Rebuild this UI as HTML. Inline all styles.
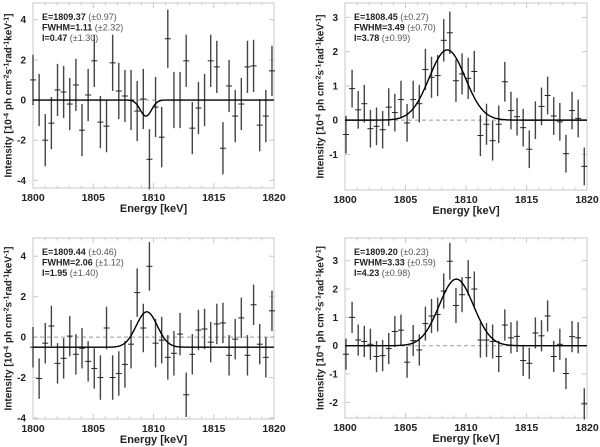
<!DOCTYPE html>
<html><head><meta charset="utf-8"><style>
html,body{margin:0;padding:0;background:#fff;}
svg{display:block;font-family:"Liberation Sans",sans-serif;}
</style></head><body>
<svg id="fig" width="600" height="447" viewBox="0 0 600 447"></svg>
<script>
const tlValues=[1.0,0.0,-2.0,-1.15,0.5,0.4,-0.2,0.75,-1.5,0.25,1.95,-1.1,-1.3,1.85,0.45,0.2,0.0,-0.55,0.05,-2.95,-0.35,-1.85,3.05,0.0,0.0,1.95,-1.4,-0.4,0.0,1.95,1.65,-2.4,0.7,-0.8,-0.2,1.65,1.7,-1.25,-0.8,1.45];
const tlErrors=[1.25,1.3,1.3,1.3,1.3,1.3,1.3,1.3,1.3,1.3,1.3,1.3,1.3,1.4,1.4,1.3,1.5,1.5,1.5,1.5,1.5,1.5,1.45,1.4,1.4,1.3,1.3,1.3,1.3,1.3,1.3,1.3,1.3,1.3,1.3,1.3,1.3,1.3,1.3,1.25];
const trValues=[-0.42,0.92,0.3,0.48,-0.25,-0.18,-0.28,0.38,0.22,0.6,-0.08,0.6,0.48,1.48,1.25,1.3,2.33,2.55,1.15,1.35,1.22,1.42,-0.45,-0.12,-0.6,-0.12,1.12,0.28,0.1,-0.22,-0.85,0.0,0.4,0.72,0.12,-0.05,-0.98,0.28,0.05,-1.35];
const trErrors=[0.55,0.55,0.55,0.55,0.55,0.55,0.55,0.55,0.55,0.55,0.55,0.55,0.55,0.6,0.6,0.6,0.62,0.62,0.62,0.6,0.6,0.6,0.6,0.6,0.58,0.55,0.58,0.55,0.55,0.55,0.55,0.55,0.55,0.55,0.55,0.55,0.55,0.55,0.55,0.55];
const blValues=[-0.5,-2.05,-0.3,0.55,-1.3,-1.05,0.05,-0.85,-0.55,-1.2,-1.55,-2.0,0.45,-2.0,-1.8,-1.35,-0.35,2.2,0.45,3.5,-0.3,-0.15,-1.0,-0.8,0.15,-2.85,-0.85,0.35,0.4,-0.25,0.65,0.7,-0.9,-0.1,0.95,-0.9,1.6,-0.35,-1.0,1.3];
const blErrors=[1.0,1.0,1.0,1.0,1.0,1.0,1.0,1.0,1.0,1.0,1.0,1.1,1.05,1.1,1.1,1.15,1.2,1.2,1.2,1.2,1.2,1.15,1.1,1.1,1.05,1.1,1.0,1.0,1.0,1.0,1.0,1.0,1.0,1.0,1.0,1.0,1.0,1.0,1.0,1.0];
const brValues=[-0.3,1.0,0.2,0.15,0.05,-0.38,-0.35,-0.1,0.5,0.55,-0.58,0.18,-0.15,0.78,1.05,1.1,1.93,2.98,1.42,1.8,2.4,2.0,0.2,0.2,0.15,-0.38,0.73,0.28,0.33,-0.52,-0.62,0.45,0.35,1.05,-0.38,0.05,-0.98,0.32,0.28,-2.05];
const brErrors=[0.55,0.55,0.55,0.55,0.55,0.55,0.55,0.55,0.55,0.55,0.55,0.55,0.55,0.6,0.6,0.6,0.62,0.65,0.62,0.62,0.62,0.62,0.62,0.6,0.6,0.55,0.55,0.55,0.55,0.55,0.55,0.55,0.55,0.55,0.55,0.55,0.55,0.55,0.55,0.55];
const xTickLabels=["1800","1805","1810","1815","1820"];
const tlYTicks=[-4,-2,0,2,4];
const trYTicks=[-1,0,1,2,3];
const blYTicks=[-4,-2,0,2,4];
const brYTicks=[-2,-1,0,1,2,3];
const tlFit=[1809.37,1.11,-0.8,0];
const trFit=[1808.45,3.49,2.05,0];
const blFit=[1809.44,2.06,1.75,-0.5];
const brFit=[1809.20,3.33,2.35,0];
const tlText=[["E=1809.37"," (±0.97)"],["FWHM=1.11"," (±2.32)"],["I=0.47"," (±1.30)"]];
const trText=[["E=1808.45"," (±0.27)"],["FWHM=3.49"," (±0.70)"],["I=3.78"," (±0.99)"]];
const blText=[["E=1809.44"," (±0.46)"],["FWHM=2.06"," (±1.12)"],["I=1.95"," (±1.40)"]];
const brText=[["E=1809.20"," (±0.23)"],["FWHM=3.33"," (±0.59)"],["I=4.23"," (±0.98)"]];

const NS="http://www.w3.org/2000/svg";
const svg=document.getElementById('fig');
function mk(tag,attrs,parent){const e=document.createElementNS(NS,tag);for(const k in attrs)e.setAttribute(k,attrs[k]);(parent||svg).appendChild(e);return e;}

const panels=[
 {id:'top-left',x0:33,x1:274,top:3,bot:188,ymin:-4.38,ymax:4.83,x0e:1800.0,step:0.5085,vals:tlValues,errs:tlErrors,yt:tlYTicks,fit:tlFit,txt:tlText,ylx:8},
 {id:'top-right',x0:345,x1:587,top:3,bot:190,ymin:-2.04,ymax:3.42,x0e:1800.08,step:0.505,vals:trValues,errs:trErrors,yt:trYTicks,fit:trFit,txt:trText,ylx:320},
 {id:'bottom-left',x0:33,x1:274,top:238,bot:419,ymin:-4.05,ymax:4.9,x0e:1800.0,step:0.5085,vals:blValues,errs:blErrors,yt:blYTicks,fit:blFit,txt:blText,ylx:8},
 {id:'bottom-right',x0:345,x1:587,top:238,bot:418,ymin:-2.55,ymax:3.8,x0e:1800.08,step:0.505,vals:brValues,errs:brErrors,yt:brYTicks,fit:brFit,txt:brText,ylx:320}
];

panels.forEach(p=>{
 const g=mk('g',{});
 
 
 const X=e=>p.x0+(e-1800)/20*(p.x1-p.x0);
 const Y=v=>p.bot-(v-p.ymin)/(p.ymax-p.ymin)*(p.bot-p.top);
 const fr=mk('rect',{x:p.x0,y:p.top,width:p.x1-p.x0,height:p.bot-p.top,fill:'none',stroke:'#c8c8c8','stroke-width':1},g);
 
 
 for(let e=1800;e<=1820;e++){
  const L=(e%5===0)?5:2.5;
  mk('line',{x1:X(e),x2:X(e),y1:p.bot,y2:p.bot-L,stroke:'#c8c8c8'},g);
  mk('line',{x1:X(e),x2:X(e),y1:p.top,y2:p.top+L,stroke:'#c8c8c8'},g);
 }
 xTickLabels.forEach(t=>{
  const tx=mk('text',{x:X(+t),y:p.bot+13,'text-anchor':'middle','font-size':10.5,'font-weight':'bold',fill:'#222'},g);
  tx.textContent=t;
  
  
 });
 p.yt.forEach(v=>{
  const tx=mk('text',{x:p.x0-7,y:Y(v)+3.5,'text-anchor':'end','font-size':10,'font-weight':'bold',fill:'#222'},g);
  tx.textContent=String(v);
  
  
  mk('line',{x1:p.x0,x2:p.x0+5,y1:Y(v),y2:Y(v),stroke:'#c8c8c8'},g);
  mk('line',{x1:p.x1,x2:p.x1-5,y1:Y(v),y2:Y(v),stroke:'#c8c8c8'},g);
 });
 const xl=mk('text',{x:(p.x0+p.x1)/2,y:p.bot+24,'text-anchor':'middle','font-size':11,'font-weight':'bold',fill:'#222'},g);
 xl.textContent='Energy [keV]';
 
 
 const yc=(p.top+p.bot)/2;
 const yl=mk('text',{x:p.ylx,y:yc+3.5,transform:`rotate(-90 ${p.ylx} ${yc})`,'text-anchor':'middle','font-size':10,'font-weight':'bold',fill:'#222'},g);
 
 
 const parts=[['Intensity [10',0],['-4',1],[' ph cm',0],['-2',1],['s',0],['-1',1],['rad',0],['-1',1],['keV',0],['-1',1],[']',0]];
 parts.forEach(([s,sup])=>{const t=mk('tspan',sup?{'font-size':7,'baseline-shift':'super'}:{},yl);t.textContent=s;});
 mk('line',{x1:p.x0,x2:p.x1,y1:Y(0),y2:Y(0),stroke:'#999','stroke-dasharray':'4,3'},g);
 p.vals.forEach((v,i)=>{
  const e=p.x0e+i*p.step, x=X(e), er=p.errs[i];
  const b=mk('g',{},g);
  
  
  mk('line',{x1:x,x2:x,y1:Y(v-er),y2:Y(v+er),stroke:'#444','stroke-width':1.4},b);
  mk('line',{x1:x-3,x2:x+3,y1:Y(v),y2:Y(v),stroke:'#222','stroke-width':1},b);
 });
 const [c,fw,a,base]=p.fit; const s=fw/2.3548;
 let d='';
 for(let k=0;k<=400;k++){const e=1800+k*0.05;const v=base+a*Math.exp(-0.5*((e-c)/s)**2);d+=(k?'L':'M')+X(e).toFixed(2)+','+Y(v).toFixed(2);}
 const fl=mk('path',{d:d,fill:'none',stroke:'#000','stroke-width':1.4},g);
 
 
 p.txt.forEach((row,j)=>{
  const t=mk('text',{x:p.x0+9,y:p.top+17+j*10.5,'font-size':9,fill:'#222'},g);
  
  
  const b=mk('tspan',{'font-weight':'bold'},t);b.textContent=row[0];
  const n=mk('tspan',{fill:'#555'},t);n.textContent=row[1];
 });
});
</script>
</body></html>
